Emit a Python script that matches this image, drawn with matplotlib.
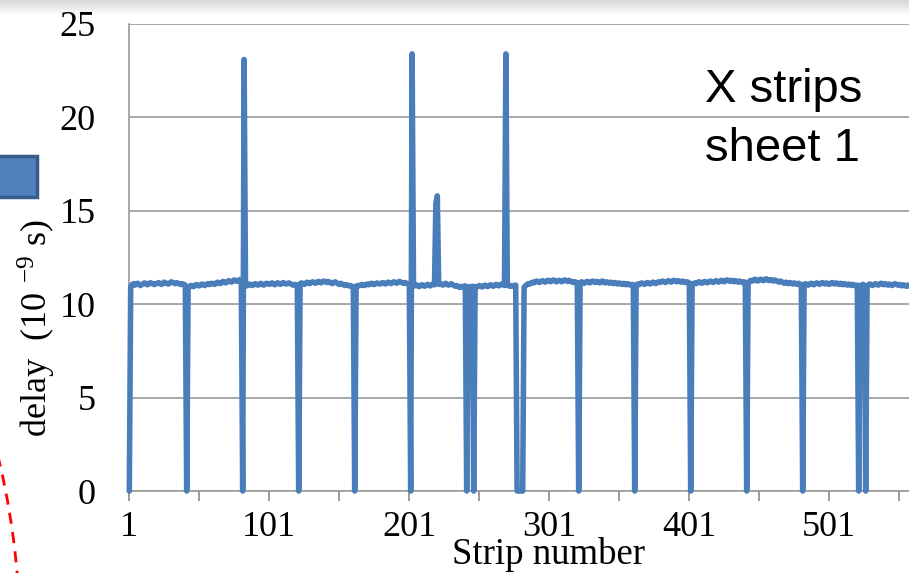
import numpy as np
import matplotlib.pyplot as plt
from matplotlib.patches import Rectangle, Arc

# delay per strip (10^-9 s), strips 1..560, baseline readings
baseline = [
    11.00, 10.95, 11.05, 11.10, 11.02, 11.08, 11.12, 11.05, 11.00, 11.06, 11.10, 11.14, 11.08, 11.04, 11.10, 11.15, 11.12, 11.08, 11.05, 11.10,
    11.12, 11.16, 11.10, 11.06, 11.12, 11.18, 11.14, 11.10, 11.08, 11.14, 11.20, 11.16, 11.12, 11.10, 11.15, 11.12, 11.08, 11.05, 11.10, 11.06,
    11.02, 11.00, 10.92, 10.95, 11.00, 10.98, 10.94, 11.02, 11.05, 11.00, 10.98, 11.04, 11.08, 11.03, 11.00, 11.06, 11.10, 11.05, 11.08, 11.12,
    11.10, 11.06, 11.12, 11.18, 11.14, 11.10, 11.16, 11.22, 11.18, 11.14, 11.20, 11.26, 11.22, 11.18, 11.24, 11.30, 11.25, 11.22, 11.28, 11.32,
    11.25, 11.10, 11.05, 11.00, 10.98, 11.04, 11.08, 11.02, 11.00, 11.06, 11.10, 11.05, 11.02, 11.08, 11.12, 11.06, 11.02, 11.08, 11.12, 11.10,
    11.06, 11.10, 11.14, 11.08, 11.04, 11.10, 11.15, 11.10, 11.06, 11.12, 11.16, 11.12, 11.08, 11.10, 11.14, 11.10, 11.06, 11.02, 11.06, 11.04,
    11.00, 11.05, 11.10, 11.14, 11.10, 11.06, 11.12, 11.18, 11.14, 11.10, 11.16, 11.20, 11.16, 11.12, 11.18, 11.22, 11.18, 11.14, 11.20, 11.24,
    11.20, 11.16, 11.22, 11.18, 11.14, 11.10, 11.16, 11.20, 11.15, 11.10, 11.06, 11.12, 11.08, 11.04, 11.00, 11.05, 11.02, 10.98, 11.00, 10.96,
    10.94, 10.90, 10.96, 11.00, 10.98, 11.02, 11.06, 11.02, 11.00, 11.05, 11.08, 11.04, 11.08, 11.12, 11.08, 11.05, 11.10, 11.14, 11.10, 11.08,
    11.12, 11.16, 11.12, 11.08, 11.14, 11.18, 11.14, 11.10, 11.16, 11.20, 11.16, 11.12, 11.18, 11.22, 11.18, 11.14, 11.12, 11.16, 11.12, 11.10,
    11.08, 11.05, 11.00, 10.96, 11.00, 11.04, 10.98, 10.94, 11.00, 11.04, 11.00, 10.96, 11.02, 11.06, 11.02, 10.98, 11.04, 11.08, 11.04, 11.00,
    11.02, 11.06, 11.10, 11.06, 11.02, 11.08, 11.12, 11.06, 11.02, 11.06, 11.10, 11.04, 11.00, 10.96, 11.00, 10.94, 10.90, 10.95, 10.92, 10.96,
    10.98, 10.95, 10.90, 10.94, 10.92, 10.96, 10.98, 10.94, 10.90, 10.96, 11.00, 10.96, 10.92, 10.98, 11.02, 10.98, 10.94, 11.00, 11.04, 11.00,
    10.96, 11.02, 11.06, 11.02, 10.98, 11.04, 11.08, 11.04, 11.00, 11.05, 11.02, 10.98, 11.00, 10.96, 10.98, 11.00, 11.02, 10.96, 10.94, 10.98,
    11.00, 10.95, 10.90, 10.98, 11.05, 11.10, 11.08, 11.14, 11.18, 11.14, 11.20, 11.24, 11.20, 11.16, 11.22, 11.26, 11.22, 11.18, 11.24, 11.28,
    11.24, 11.20, 11.26, 11.30, 11.25, 11.20, 11.24, 11.28, 11.24, 11.20, 11.26, 11.30, 11.26, 11.22, 11.28, 11.24, 11.20, 11.16, 11.20, 11.18,
    11.14, 11.10, 11.16, 11.20, 11.16, 11.12, 11.18, 11.22, 11.18, 11.14, 11.20, 11.24, 11.20, 11.16, 11.22, 11.18, 11.14, 11.20, 11.24, 11.18,
    11.14, 11.20, 11.16, 11.12, 11.18, 11.14, 11.10, 11.16, 11.12, 11.08, 11.14, 11.10, 11.06, 11.12, 11.08, 11.04, 11.10, 11.06, 11.02, 11.06,
    11.02, 11.00, 11.04, 11.08, 11.04, 11.10, 11.14, 11.10, 11.06, 11.12, 11.16, 11.12, 11.08, 11.14, 11.18, 11.14, 11.10, 11.16, 11.20, 11.16,
    11.20, 11.24, 11.20, 11.16, 11.22, 11.26, 11.22, 11.18, 11.24, 11.28, 11.24, 11.20, 11.26, 11.22, 11.18, 11.24, 11.20, 11.16, 11.20, 11.18,
    11.14, 11.10, 11.06, 11.10, 11.14, 11.10, 11.16, 11.20, 11.16, 11.12, 11.18, 11.22, 11.18, 11.14, 11.20, 11.24, 11.20, 11.16, 11.22, 11.26,
    11.22, 11.18, 11.24, 11.28, 11.24, 11.20, 11.26, 11.30, 11.26, 11.22, 11.28, 11.24, 11.20, 11.26, 11.22, 11.18, 11.24, 11.20, 11.16, 11.20,
    11.16, 11.12, 11.18, 11.22, 11.28, 11.24, 11.30, 11.34, 11.28, 11.24, 11.30, 11.34, 11.30, 11.26, 11.32, 11.36, 11.30, 11.26, 11.32, 11.28,
    11.24, 11.30, 11.26, 11.22, 11.18, 11.24, 11.20, 11.16, 11.12, 11.18, 11.14, 11.10, 11.16, 11.12, 11.08, 11.14, 11.10, 11.06, 11.12, 11.08,
    11.04, 11.00, 11.06, 11.10, 11.06, 11.02, 11.08, 11.12, 11.08, 11.04, 11.10, 11.14, 11.10, 11.06, 11.12, 11.16, 11.12, 11.08, 11.14, 11.10,
    11.06, 11.12, 11.16, 11.12, 11.08, 11.14, 11.10, 11.06, 11.12, 11.08, 11.04, 11.10, 11.06, 11.02, 11.08, 11.04, 11.00, 11.06, 11.02, 10.98,
    11.02, 11.00, 10.98, 11.02, 11.06, 11.02, 11.00, 10.98, 11.04, 11.08, 11.04, 11.00, 11.06, 11.10, 11.06, 11.02, 11.08, 11.12, 11.08, 11.04,
    11.10, 11.06, 11.02, 11.08, 11.04, 11.00, 11.06, 11.10, 11.06, 11.02, 11.06, 11.02, 10.98, 11.04, 11.00, 10.96, 11.02, 10.98, 10.94, 11.00,
]

# strips with no signal (delay 0)
dead_strips = [1, 42, 82, 122, 162, 202, 242, 247, 278, 279, 280, 281, 282,
               322, 362, 402, 442, 482, 522, 527]

# strips with anomalous delay
spike_strips = [83, 203, 220, 221, 270]
spike_values = [23.1, 23.4, 15.4, 15.8, 23.4]

x_ticks = [1, 51, 101, 151, 201, 251, 301, 351, 401, 451, 501, 551]
x_labels = ['1', '', '101', '', '201', '', '301', '', '401', '', '501', '']
y_ticks = [0, 5, 10, 15, 20, 25]

strips = np.arange(1, len(baseline) + 1)
delay = np.array(baseline)
delay[np.array(dead_strips) - 1] = 0.0
delay[np.array(spike_strips) - 1] = spike_values

plt.rcParams['font.family'] = ['Liberation Serif', 'DejaVu Serif']
plt.rcParams['mathtext.fontset'] = 'stix'

W, H = 909, 573
fig = plt.figure(figsize=(W / 100, H / 100), dpi=100)

# header shading of the slide (drawn first so it sits behind)
band = fig.add_axes([0, 1 - 16 / H, 1, 16 / H])
band.imshow(np.linspace(0.84, 1.0, 16).reshape(-1, 1), cmap='gray', vmin=0, vmax=1,
            aspect='auto', extent=[0, 1, 0, 1])
band.axis('off')

# axes: strip 1 at x=129px, y=0 at 491px, y=25 at 24px; runs off the right edge
x0, x1 = 1, 576
px_per_strip = 1.4
left = 129.3 / W
width = (x1 - x0) * px_per_strip / W
bottom = (H - 491) / H
height = (491 - 24) / H
ax = fig.add_axes([left, bottom, width, height])
ax.patch.set_alpha(0)

ax.plot(strips, delay, color='#4A7EBB', lw=4.0, solid_joinstyle='round',
        solid_capstyle='round', clip_on=False, zorder=3)

ax.set_yticks(y_ticks)
ax.set_xticks(x_ticks)
ax.set_xticklabels(x_labels)
ax.set_xlim(x0, x1)
ax.set_ylim(0, 25)
ax.yaxis.grid(True, color='#9A9A9A', lw=1.2)
ax.set_axisbelow(True)

for side in ['top', 'right']:
    ax.spines[side].set_visible(False)
for side in ['left', 'bottom']:
    ax.spines[side].set_color('#9A9A9A')
    ax.spines[side].set_linewidth(1.2)

ax.tick_params(axis='x', direction='out', length=7.5, width=1.2, color='#8A8A8A',
               labelsize=26, pad=7)
ax.tick_params(axis='y', length=0, labelsize=26, pad=24)

fig.text(548 / W, 1 - 555 / H, 'Strip number', ha='center', va='center', fontsize=26.5)
fig.text(36 / W, 1 - 328 / H, r'delay  (10 $^{\mathregular{-9}}$ s)', rotation=90,
         ha='center', va='center', fontsize=26)

fig.text(705 / W, 1 - 68 / H, 'X strips\nsheet 1', ha='left', va='top',
         fontsize=34, family=['Liberation Sans', 'DejaVu Sans'], linespacing=1.45)

# slide leftovers: legend key and dashed outline
fig.patches.append(Rectangle((-4 / W, 1 - 197 / H), 41 / W, 41 / H, transform=fig.transFigure,
                             facecolor='#4F81BD', edgecolor='#385D8A', lw=2.5))
fig.patches.append(Arc((-7.6, -0.67), 15.6, 15.6, theta1=0, theta2=15,
                       transform=fig.dpi_scale_trans, color='#FF0000', lw=2,
                       linestyle=(0, (4, 3))))

fig.savefig('out.png', dpi=100)
